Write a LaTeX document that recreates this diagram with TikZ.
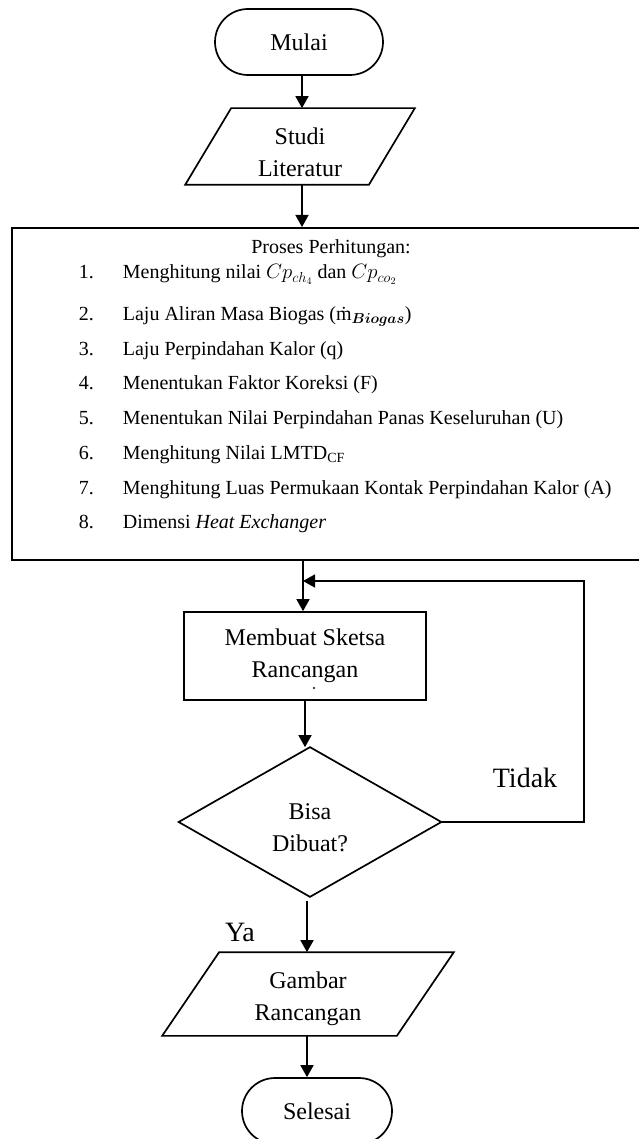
\documentclass[tikz,border=0pt]{standalone}
\usepackage{amsmath}
\usepackage{fontspec}
\setmainfont{Liberation Serif}
\usetikzlibrary{arrows.meta}
\begin{document}
\begin{tikzpicture}[x=1pt,y=-1pt,
  line width=1.7pt,
  arr/.style={-{Triangle[length=12pt,width=13pt]}},
  nf/.style={font=\fontsize{24}{32}\selectfont, align=center},
  lf/.style={font=\fontsize{20}{24}\selectfont, anchor=base west, inner sep=0pt},
  shp/.style={draw=none, inner sep=0pt},
  lbl/.style={font=\fontsize{28}{34}\selectfont, inner sep=0pt}]
\useasboundingbox (0,0) rectangle (638,1139);

% start
\node[nf, draw, rounded corners=33pt, minimum width=168pt, minimum height=66pt, inner sep=0pt] (mulai) at (299,42) {Mulai};

% Studi Literatur (parallelogram)
\node[shp, minimum width=182pt, minimum height=75pt] (studi) at (300,146.5) {};
\draw ([xshift=-23pt]studi.south west) -- ([xshift=23pt]studi.north west) -- ([xshift=23pt]studi.north east) -- ([xshift=-23pt]studi.south east) -- cycle;
\node[nf, inner sep=0pt] (studiT) at (300,152) {Studi\\Literatur};

% process box
\node[draw, line width=2pt, minimum width=638pt, minimum height=332pt, inner sep=0pt] (proc) at (331,394) {};
\node[lf, anchor=base] (t0) at (331,254) {Proses Perhitungan:};
\node[lf] (n1) at (78,279) {1.};
\node[lf] (l1) at (122,279) {Menghitung nilai $Cp_{ch_4}$ dan $Cp_{co_2}$};
\node[lf] (n2) at (78,320) {2.};
\node[lf] (l2) at (122,320) {Laju Aliran Masa Biogas (\.{m}$_{\boldsymbol{Biogas}}$)};
\node[lf] (n3) at (78,355) {3.};
\node[lf] (l3) at (122,355) {Laju Perpindahan Kalor (q)};
\node[lf] (n4) at (78,389) {4.};
\node[lf] (l4) at (122,389) {Menentukan Faktor Koreksi (F)};
\node[lf] (n5) at (78,424) {5.};
\node[lf] (l5) at (122,424) {Menentukan Nilai Perpindahan Panas Keseluruhan (U)};
\node[lf] (n6) at (78,459) {6.};
\node[lf] (l6) at (122,459) {Menghitung Nilai LMTD\textsubscript{CF}};
\node[lf] (n7) at (78,494) {7.};
\node[lf] (l7) at (122,494) {Menghitung Luas Permukaan Kontak Perpindahan Kalor (A)};
\node[lf] (n8) at (78,528) {8.};
\node[lf] (l8) at (122,528) {Dimensi \textit{Heat Exchanger}};

% sketch box
\node[nf, draw, minimum width=242pt, minimum height=88pt, inner sep=0pt] (sketsa) at (305,656) {Membuat Sketsa\\Rancangan};
\fill (314,688) circle (1.1pt);

% decision
\node[shp, minimum width=261pt, minimum height=148pt] (dec) at (310,822) {};
\draw (dec.north) -- (dec.east) -- (dec.south) -- (dec.west) -- cycle;
\node[nf, inner sep=0pt] (decT) at (310,828) {Bisa\\Dibuat?};

% Gambar Rancangan (parallelogram)
\node[shp, minimum width=233pt, minimum height=82pt] (gambar) at (308,994) {};
\draw ([xshift=-28.5pt]gambar.south west) -- ([xshift=28.5pt]gambar.north west) -- ([xshift=28.5pt]gambar.north east) -- ([xshift=-28.5pt]gambar.south east) -- cycle;
\node[nf, inner sep=0pt] (gambarT) at (308,999) {Gambar\\Rancangan};

% end
\node[nf, draw, rounded corners=33pt, minimum width=150pt, minimum height=66pt, inner sep=0pt] (selesai) at (317,1111) {Selesai};

% labels
\node[lbl] (tidak) at (525,778) {Tidak};
\node[lbl] (ya) at (240,932) {Ya};

% connectors
\coordinate (j) at (303,581);
\coordinate (lr) at (584,581);
\draw[arr] ([xshift=3pt]mulai.south) -- ([xshift=3pt]mulai.south |- studi.north);
\draw[arr] ([xshift=2pt]studi.south) -- ([xshift=2pt]studi.south |- proc.north);
\draw[arr] (proc.south -| j) -- (j |- sketsa.north);
\draw[arr] (sketsa.south) -- (sketsa.south |- dec.north);
\draw[arr, shorten <=4pt] ([xshift=-3pt]dec.south) -- ([xshift=-3pt]dec.south |- gambar.north);
\draw[arr] ([xshift=-1pt]gambar.south) -- ([xshift=-1pt]gambar.south |- selesai.north);
\draw[arr] (dec.east) -- (dec.east -| lr) -- (lr) -- (j);
\end{tikzpicture}
\end{document}
